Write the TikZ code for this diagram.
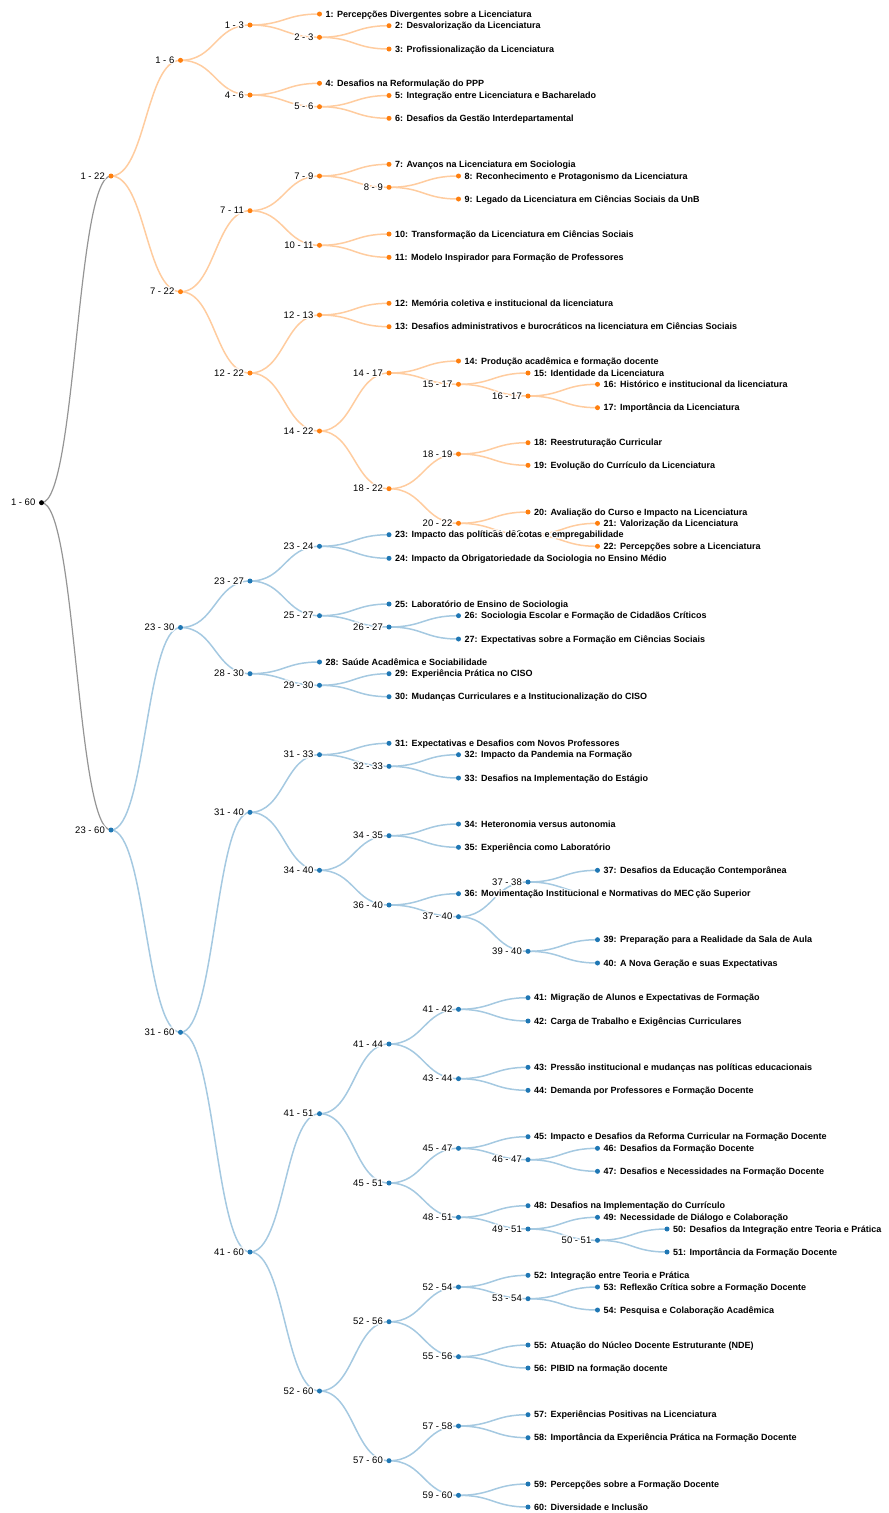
\documentclass[tikz,border=0pt]{standalone}
\usepackage{fontspec}
\setmainfont{Liberation Sans}
\usetikzlibrary{calc}
\pgfdeclarelayer{bg}
\pgfsetlayers{bg,main}
\definecolor{cO}{HTML}{FF7F0E}
\definecolor{cB}{HTML}{1F77B4}
\definecolor{cK}{HTML}{000000}
\definecolor{lO}{HTML}{FFCC9F}
\definecolor{lB}{HTML}{A5C9E1}
\definecolor{lG}{HTML}{959595}
\newcommand\hl[1]{\leavevmode\rlap{\color{white}%
  \rlap{\kern1.5pt #1}\rlap{\kern-1.5pt #1}%
  \rlap{\raisebox{1.5pt}{#1}}\rlap{\raisebox{-1.5pt}{#1}}%
  \rlap{\kern1.06pt\raisebox{1.06pt}{#1}}\rlap{\kern-1.06pt\raisebox{1.06pt}{#1}}%
  \rlap{\kern1.06pt\raisebox{-1.06pt}{#1}}\rlap{\kern-1.06pt\raisebox{-1.06pt}{#1}}}#1}
\newcommand\inode[5]{%
  \node[dot,fill=#4] (#1) at ({41.5+69.5*#2},#3) {};
  \node[ilbl,anchor=base east] (#1t) at ([xshift=-6pt,yshift=-3.1pt]#1.center) {\hl{#5}};}
\newcommand\lnode[5]{%
  \node[dot,fill=#4] (#1) at ({41.5+69.5*#2},#3) {};
  \node[llbl,anchor=base west] (#1t) at ([xshift=6pt,yshift=-3.1pt]#1.center) {\hl{#5}};}
\newcommand\lk[3]{\draw[lnk,#1] let \p1=(#2.center), \p2=(#3.center) in
  (\p1) .. controls ({0.5*\x1+0.5*\x2},\y1) and ({0.5*\x1+0.5*\x2},\y2) .. (\p2);}
\newcommand\lkk[4]{\lk{#1}{#2}{#3}\lk{#1}{#2}{#4}}
\begin{document}
\begin{tikzpicture}[x=1pt,y=-1pt,
  dot/.style={circle,inner sep=0pt,minimum size=5pt,draw=none},
  ilbl/.style={inner sep=0pt,font=\fontsize{9.5}{11}\selectfont,text=black},
  llbl/.style={inner sep=0pt,font=\fontsize{9}{11}\selectfont\bfseries,text=black},
  lnk/.style={line width=1.5pt}]
\useasboundingbox (0,0) rectangle (889,1513);
% depth 9
\lnode{l50}{9}{1229}{cB}{50: Desafios da Integração entre Teoria e Prática}
\lnode{l51}{9}{1252}{cB}{51: Importância da Formação Docente}
% depth 8
\inode{a50x51}{8}{1240.3}{cB}{50 - 51}
\lnode{l16}{8}{384.3}{cO}{16: Histórico e institucional da licenciatura}
\lnode{l17}{8}{407.7}{cO}{17: Importância da Licenciatura}
\lnode{l21}{8}{523.3}{cO}{21: Valorização da Licenciatura}
\lnode{l22}{8}{546.3}{cO}{22: Percepções sobre a Licenciatura}
\lnode{l37}{8}{870.3}{cB}{37: Desafios da Educação Contemporânea}
\node[dot,fill=cB] (l38) at ({41.5+69.5*8},893.7) {};
\node[llbl,anchor=base west] (l38t) at ([xshift=98pt,yshift=-3.1pt]l38.center) {\hl{ção Superior}};
\lnode{l39}{8}{939.7}{cB}{39: Preparação para a Realidade da Sala de Aula}
\lnode{l40}{8}{963}{cB}{40: A Nova Geração e suas Expectativas}
\lnode{l46}{8}{1148.3}{cB}{46: Desafios da Formação Docente}
\lnode{l47}{8}{1171.3}{cB}{47: Desafios e Necessidades na Formação Docente}
\lnode{l49}{8}{1217.3}{cB}{49: Necessidade de Diálogo e Colaboração}
\lnode{l53}{8}{1287}{cB}{53: Reflexão Crítica sobre a Formação Docente}
\lnode{l54}{8}{1310}{cB}{54: Pesquisa e Colaboração Acadêmica}
% depth 7
\inode{a16x17}{7}{396}{cO}{16 - 17}
\inode{a21x22}{7}{534.8}{cO}{21 - 22}
\inode{a37x38}{7}{882}{cB}{37 - 38}
\inode{a39x40}{7}{951.3}{cB}{39 - 40}
\inode{a46x47}{7}{1159.7}{cB}{46 - 47}
\inode{a49x51}{7}{1229}{cB}{49 - 51}
\inode{a53x54}{7}{1298.7}{cB}{53 - 54}
\lnode{l15}{7}{373}{cO}{15: Identidade da Licenciatura}
\lnode{l18}{7}{442.7}{cO}{18: Reestruturação Curricular}
\lnode{l19}{7}{465.3}{cO}{19: Evolução do Currículo da Licenciatura}
\lnode{l20}{7}{512}{cO}{20: Avaliação do Curso e Impacto na Licenciatura}
\lnode{l41}{7}{997.7}{cB}{41: Migração de Alunos e Expectativas de Formação}
\lnode{l42}{7}{1021}{cB}{42: Carga de Trabalho e Exigências Curriculares}
\lnode{l43}{7}{1067.3}{cB}{43: Pressão institucional e mudanças nas políticas educacionais}
\lnode{l44}{7}{1090.3}{cB}{44: Demanda por Professores e Formação Docente}
\lnode{l45}{7}{1136.7}{cB}{45: Impacto e Desafios da Reforma Curricular na Formação Docente}
\lnode{l48}{7}{1205.7}{cB}{48: Desafios na Implementação do Currículo}
\lnode{l52}{7}{1275.3}{cB}{52: Integração entre Teoria e Prática}
\lnode{l55}{7}{1345}{cB}{55: Atuação do Núcleo Docente Estruturante (NDE)}
\lnode{l56}{7}{1368}{cB}{56: PIBID na formação docente}
\lnode{l57}{7}{1414.7}{cB}{57: Experiências Positivas na Licenciatura}
\lnode{l58}{7}{1437.7}{cB}{58: Importância da Experiência Prática na Formação Docente}
\lnode{l59}{7}{1484}{cB}{59: Percepções sobre a Formação Docente}
\lnode{l60}{7}{1507}{cB}{60: Diversidade e Inclusão}
% depth 6
\inode{a15x17}{6}{384.3}{cO}{15 - 17}
\inode{a18x19}{6}{454}{cO}{18 - 19}
\inode{a20x22}{6}{523.3}{cO}{20 - 22}
\inode{a37x40}{6}{916.7}{cB}{37 - 40}
\inode{a41x42}{6}{1009.3}{cB}{41 - 42}
\inode{a43x44}{6}{1078.7}{cB}{43 - 44}
\inode{a45x47}{6}{1148.3}{cB}{45 - 47}
\inode{a48x51}{6}{1217.3}{cB}{48 - 51}
\inode{a52x54}{6}{1287}{cB}{52 - 54}
\inode{a55x56}{6}{1356.7}{cB}{55 - 56}
\inode{a57x58}{6}{1426}{cB}{57 - 58}
\inode{a59x60}{6}{1495.3}{cB}{59 - 60}
\lnode{l8}{6}{176}{cO}{8: Reconhecimento e Protagonismo da Licenciatura}
\lnode{l9}{6}{199}{cO}{9: Legado da Licenciatura em Ciências Sociais da UnB}
\lnode{l14}{6}{361}{cO}{14: Produção acadêmica e formação docente}
\lnode{l26}{6}{615.7}{cB}{26: Sociologia Escolar e Formação de Cidadãos Críticos}
\lnode{l27}{6}{639}{cB}{27: Expectativas sobre a Formação em Ciências Sociais}
\lnode{l32}{6}{754.7}{cB}{32: Impacto da Pandemia na Formação}
\lnode{l33}{6}{778}{cB}{33: Desafios na Implementação do Estágio}
\lnode{l34}{6}{824}{cB}{34: Heteronomia versus autonomia}
\lnode{l35}{6}{847.3}{cB}{35: Experiência como Laboratório}
\lnode{l36}{6}{893.7}{cB}{36: Movimentação Institucional e Normativas do MEC}
% depth 5
\inode{a8x9}{5}{187.3}{cO}{8 - 9}
\inode{a14x17}{5}{373}{cO}{14 - 17}
\inode{a18x22}{5}{488.7}{cO}{18 - 22}
\inode{a26x27}{5}{627}{cB}{26 - 27}
\inode{a32x33}{5}{766.3}{cB}{32 - 33}
\inode{a34x35}{5}{835.7}{cB}{34 - 35}
\inode{a36x40}{5}{905}{cB}{36 - 40}
\inode{a41x44}{5}{1044}{cB}{41 - 44}
\inode{a45x51}{5}{1183}{cB}{45 - 51}
\inode{a52x56}{5}{1321.7}{cB}{52 - 56}
\inode{a57x60}{5}{1460.7}{cB}{57 - 60}
\lnode{l2}{5}{25.7}{cO}{2: Desvalorização da Licenciatura}
\lnode{l3}{5}{49}{cO}{3: Profissionalização da Licenciatura}
\lnode{l5}{5}{95.5}{cO}{5: Integração entre Licenciatura e Bacharelado}
\lnode{l6}{5}{118.3}{cO}{6: Desafios da Gestão Interdepartamental}
\lnode{l7}{5}{164.3}{cO}{7: Avanços na Licenciatura em Sociologia}
\lnode{l10}{5}{234}{cO}{10: Transformação da Licenciatura em Ciências Sociais}
\lnode{l11}{5}{257.3}{cO}{11: Modelo Inspirador para Formação de Professores}
\lnode{l12}{5}{303.3}{cO}{12: Memória coletiva e institucional da licenciatura}
\lnode{l13}{5}{326.7}{cO}{13: Desafios administrativos e burocráticos na licenciatura em Ciências Sociais}
\lnode{l23}{5}{534.7}{cB}{23: Impacto das políticas de cotas e empregabilidade}
\lnode{l24}{5}{558.3}{cB}{24: Impacto da Obrigatoriedade da Sociologia no Ensino Médio}
\lnode{l25}{5}{604}{cB}{25: Laboratório de Ensino de Sociologia}
\lnode{l29}{5}{673.7}{cB}{29: Experiência Prática no CISO}
\lnode{l30}{5}{696.7}{cB}{30: Mudanças Curriculares e a Institucionalização do CISO}
\lnode{l31}{5}{743.3}{cB}{31: Expectativas e Desafios com Novos Professores}
% depth 4
\inode{a2x3}{4}{37.3}{cO}{2 - 3}
\inode{a5x6}{4}{106.7}{cO}{5 - 6}
\inode{a7x9}{4}{176}{cO}{7 - 9}
\inode{a10x11}{4}{245.3}{cO}{10 - 11}
\inode{a12x13}{4}{315}{cO}{12 - 13}
\inode{a14x22}{4}{431}{cO}{14 - 22}
\inode{a23x24}{4}{546.3}{cB}{23 - 24}
\inode{a25x27}{4}{615.7}{cB}{25 - 27}
\inode{a29x30}{4}{685.3}{cB}{29 - 30}
\inode{a31x33}{4}{754.7}{cB}{31 - 33}
\inode{a34x40}{4}{870.3}{cB}{34 - 40}
\inode{a41x51}{4}{1113.7}{cB}{41 - 51}
\inode{a52x60}{4}{1391}{cB}{52 - 60}
\lnode{l1}{4}{14}{cO}{1: Percepções Divergentes sobre a Licenciatura}
\lnode{l4}{4}{83.3}{cO}{4: Desafios na Reformulação do PPP}
\lnode{l28}{4}{662}{cB}{28: Saúde Acadêmica e Sociabilidade}
% depth 3
\inode{a1x3}{3}{25}{cO}{1 - 3}
\inode{a4x6}{3}{95}{cO}{4 - 6}
\inode{a7x11}{3}{210.7}{cO}{7 - 11}
\inode{a12x22}{3}{373}{cO}{12 - 22}
\inode{a23x27}{3}{581}{cB}{23 - 27}
\inode{a28x30}{3}{673.7}{cB}{28 - 30}
\inode{a31x40}{3}{812.3}{cB}{31 - 40}
\inode{a41x60}{3}{1252}{cB}{41 - 60}
% depth 2
\inode{a1x6}{2}{60.3}{cO}{1 - 6}
\inode{a7x22}{2}{291.7}{cO}{7 - 22}
\inode{a23x30}{2}{627.5}{cB}{23 - 30}
\inode{a31x60}{2}{1032.3}{cB}{31 - 60}
% depth 1
\inode{a1x22}{1}{176}{cO}{1 - 22}
\inode{a23x60}{1}{830}{cB}{23 - 60}
% root
\inode{r}{0}{502.7}{cK}{1 - 60}
\begin{pgfonlayer}{bg}
\lkk{lG,line width=1.2pt}{r}{a1x22}{a23x60}
\lkk{lO}{a1x22}{a1x6}{a7x22}
\lkk{lO}{a1x6}{a1x3}{a4x6}
\lkk{lO}{a1x3}{l1}{a2x3}
\lkk{lO}{a2x3}{l2}{l3}
\lkk{lO}{a4x6}{l4}{a5x6}
\lkk{lO}{a5x6}{l5}{l6}
\lkk{lO}{a7x22}{a7x11}{a12x22}
\lkk{lO}{a7x11}{a7x9}{a10x11}
\lkk{lO}{a7x9}{l7}{a8x9}
\lkk{lO}{a8x9}{l8}{l9}
\lkk{lO}{a10x11}{l10}{l11}
\lkk{lO}{a12x22}{a12x13}{a14x22}
\lkk{lO}{a12x13}{l12}{l13}
\lkk{lO}{a14x22}{a14x17}{a18x22}
\lkk{lO}{a14x17}{l14}{a15x17}
\lkk{lO}{a15x17}{l15}{a16x17}
\lkk{lO}{a16x17}{l16}{l17}
\lkk{lO}{a18x22}{a18x19}{a20x22}
\lkk{lO}{a18x19}{l18}{l19}
\lkk{lO}{a20x22}{l20}{a21x22}
\lkk{lO}{a21x22}{l21}{l22}
\lkk{lB}{a23x60}{a23x30}{a31x60}
\lkk{lB}{a23x30}{a23x27}{a28x30}
\lkk{lB}{a23x27}{a23x24}{a25x27}
\lkk{lB}{a23x24}{l23}{l24}
\lkk{lB}{a25x27}{l25}{a26x27}
\lkk{lB}{a26x27}{l26}{l27}
\lkk{lB}{a28x30}{l28}{a29x30}
\lkk{lB}{a29x30}{l29}{l30}
\lkk{lB}{a31x60}{a31x40}{a41x60}
\lkk{lB}{a31x40}{a31x33}{a34x40}
\lkk{lB}{a31x33}{l31}{a32x33}
\lkk{lB}{a32x33}{l32}{l33}
\lkk{lB}{a34x40}{a34x35}{a36x40}
\lkk{lB}{a34x35}{l34}{l35}
\lkk{lB}{a36x40}{l36}{a37x40}
\lkk{lB}{a37x40}{a37x38}{a39x40}
\lkk{lB}{a37x38}{l37}{l38}
\lkk{lB}{a39x40}{l39}{l40}
\lkk{lB}{a41x60}{a41x51}{a52x60}
\lkk{lB}{a41x51}{a41x44}{a45x51}
\lkk{lB}{a41x44}{a41x42}{a43x44}
\lkk{lB}{a41x42}{l41}{l42}
\lkk{lB}{a43x44}{l43}{l44}
\lkk{lB}{a45x51}{a45x47}{a48x51}
\lkk{lB}{a45x47}{l45}{a46x47}
\lkk{lB}{a46x47}{l46}{l47}
\lkk{lB}{a48x51}{l48}{a49x51}
\lkk{lB}{a49x51}{l49}{a50x51}
\lkk{lB}{a50x51}{l50}{l51}
\lkk{lB}{a52x60}{a52x56}{a57x60}
\lkk{lB}{a52x56}{a52x54}{a55x56}
\lkk{lB}{a52x54}{l52}{a53x54}
\lkk{lB}{a53x54}{l53}{l54}
\lkk{lB}{a55x56}{l55}{l56}
\lkk{lB}{a57x60}{a57x58}{a59x60}
\lkk{lB}{a57x58}{l57}{l58}
\lkk{lB}{a59x60}{l59}{l60}
\end{pgfonlayer}
\end{tikzpicture}
\end{document}
